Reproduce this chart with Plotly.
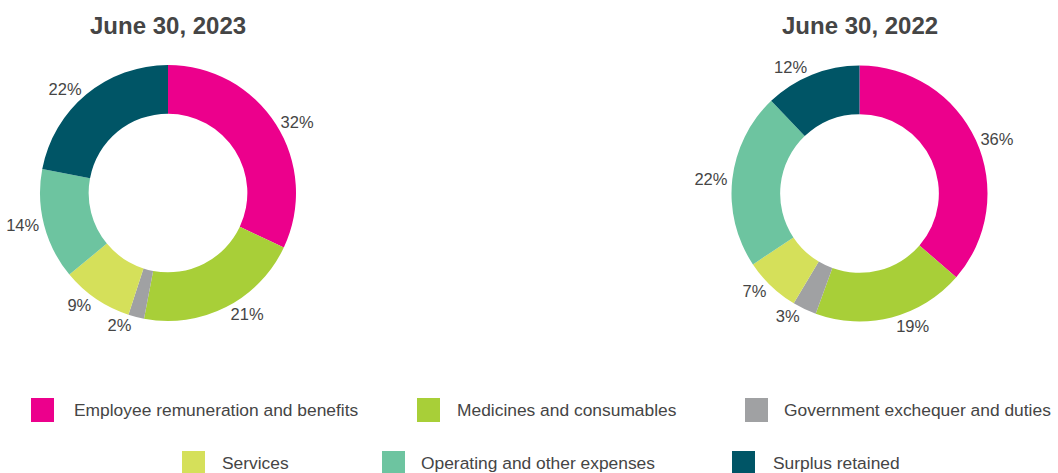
import plotly.graph_objects as go

W, H = 1058, 473

categories = [
    "Employee remuneration and benefits",
    "Medicines and consumables",
    "Government exchequer and duties",
    "Services",
    "Operating and other expenses",
    "Surplus retained",
]
values_2023 = [32, 21, 2, 9, 14, 22]
values_2022 = [36, 19, 3, 7, 22, 12]
titles = ["June 30, 2023", "June 30, 2022"]
colors = ["#EC008C", "#A8CF38", "#A0A1A3", "#D5E05A", "#6DC4A0", "#005566"]

TEXT = "#454545"
FONT = "Liberation Sans, Arial, Helvetica, sans-serif"


def px_x(x):
    return x / W


def px_y(y):
    return 1 - y / H


fig = go.Figure()

# pie geometry (centre x, centre y, radius in pixels)
pies = [(168, 193, 128, values_2023), (859.5, 193.5, 128, values_2022)]
for cx, cy, r, vals in pies:
    fig.add_trace(go.Pie(
        labels=categories,
        values=vals,
        text=[f"{v}%" for v in vals],
        textinfo="text",
        textposition="outside",
        textfont=dict(family=FONT, size=16.5, color=TEXT),
        sort=False,
        direction="clockwise",
        rotation=0,
        hole=0.62,
        marker=dict(colors=colors, line=dict(width=0)),
        showlegend=False,
        domain=dict(x=[px_x(cx - r), px_x(cx + r)], y=[px_y(cy + r), px_y(cy - r)]),
        hoverinfo="label+text",
    ))

annotations = []
shapes = []
for (cx, cy, r, _), t in zip(pies, titles):
    annotations.append(dict(
        x=px_x(cx), y=px_y(26), xref="paper", yref="paper",
        text=f"<b>{t}</b>", showarrow=False, xanchor="center", yanchor="middle",
        font=dict(family=FONT, size=24, color=TEXT),
    ))

# custom legend: (square left x, centre y, text x)
legend_pos = [
    (31, 410, 72),
    (417, 410, 455),
    (745, 410, 782),
    (182, 463, 220),
    (382, 463, 419),
    (732, 463, 771),
]
for cat, col, (sx, sy, tx) in zip(categories, colors, legend_pos):
    shapes.append(dict(
        type="rect", xref="paper", yref="paper",
        x0=px_x(sx), x1=px_x(sx + 23), y0=px_y(sy + 12), y1=px_y(sy - 12),
        fillcolor=col, line=dict(width=0),
    ))
    annotations.append(dict(
        x=px_x(tx), y=px_y(sy), xref="paper", yref="paper",
        text=cat, showarrow=False, xanchor="left", yanchor="middle",
        font=dict(family=FONT, size=17.4, color=TEXT),
    ))

fig.update_layout(
    width=W, height=H,
    margin=dict(l=0, r=0, t=0, b=0),
    paper_bgcolor="white", plot_bgcolor="white",
    annotations=annotations, shapes=shapes,
)

fig.write_html("out.html")
